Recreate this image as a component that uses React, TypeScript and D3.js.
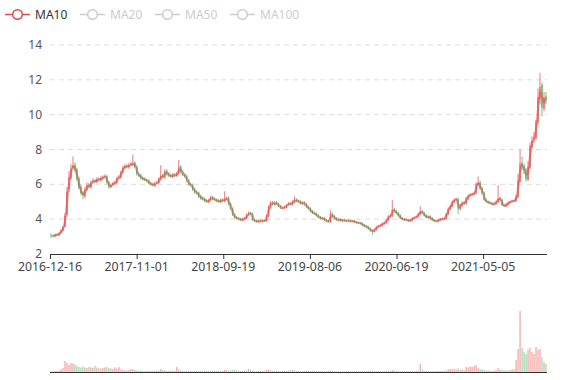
import React from "react";
import * as d3 from "d3";

// x-axis tick labels and their trading-day index
const tickLabels = ["2016-12-16", "2017-11-01", "2018-09-19", "2019-08-06", "2020-06-19", "2021-05-05"];
const tickDayIndex = [0, 217, 434, 651, 868, 1085];
const daysPerCandle = 5; // each candle = one trading week
const maWindowCandles = 2; // 10 trading days
const legendNames = ["MA10", "MA20", "MA50", "MA100"];
const yTicks = [2, 4, 6, 8, 10, 12, 14];

const opens = [
  3.10,3.06,3.02,3.13,3.07,3.18,3.33,3.56,4.25,5.70,
  6.35,6.95,7.15,6.85,6.35,5.85,5.55,5.30,5.68,5.98,
  5.82,6.12,6.25,6.12,6.32,6.22,6.33,6.42,6.48,6.12,
  5.83,5.98,6.08,6.08,6.38,6.38,6.68,6.93,7.08,6.98,
  7.12,7.13,7.25,7.02,6.58,6.52,6.38,6.32,6.22,6.22,
  6.08,6.02,5.92,6.08,6.08,6.28,6.52,6.38,6.78,6.62,
  6.52,6.42,6.58,6.48,6.62,7.02,6.72,6.57,6.47,6.22,
  6.02,5.97,5.72,5.53,5.52,5.32,5.22,5.17,5.07,4.98,
  5.12,5.27,5.17,5.12,5.07,4.98,5.12,5.03,5.13,5.22,
  4.88,4.62,4.28,4.12,4.07,4.02,3.93,3.98,4.03,4.27,
  4.37,4.32,3.97,3.92,3.83,3.92,3.86,3.94,3.88,4.18,
  4.68,4.98,4.83,4.97,4.88,4.77,4.62,4.67,4.68,4.82,
  4.92,4.83,4.98,5.12,5.07,5.02,4.88,4.97,4.87,4.72,
  4.62,4.47,4.37,4.32,4.22,4.12,4.02,4.07,3.97,3.90,
  3.83,4.32,4.17,4.07,3.93,4.00,3.90,3.97,3.88,3.94,
  3.92,3.86,3.92,3.84,3.82,3.80,3.77,3.67,3.62,3.57,
  3.47,3.37,3.28,3.38,3.53,3.62,3.63,3.73,3.78,3.93,
  4.13,4.18,4.57,4.47,4.37,4.22,4.07,3.96,4.00,3.97,
  3.88,3.93,4.03,4.12,4.13,4.28,4.47,4.37,4.22,4.08,
  4.17,4.07,3.97,3.92,3.86,3.93,4.03,3.98,4.03,4.28,
  4.58,4.73,4.98,5.12,5.17,4.58,4.78,4.97,4.88,5.18,
  5.33,5.42,5.42,5.48,5.98,6.12,5.78,5.52,5.12,5.02,
  4.97,4.92,4.83,4.88,4.98,5.22,5.12,4.82,4.73,4.83,
  4.93,5.02,5.08,5.03,5.28,6.15,7.25,7.05,6.85,6.25,
  6.95,8.15,8.60,8.65,9.55,10.90,11.70,10.35,11.05,
];

const closes = [
  3.05,3.00,3.12,3.08,3.20,3.35,3.55,4.20,5.60,6.40,
  6.90,7.10,6.80,6.30,5.80,5.50,5.35,5.70,5.95,5.85,
  6.10,6.20,6.15,6.30,6.25,6.35,6.40,6.45,6.10,5.85,
  5.95,6.05,6.10,6.35,6.40,6.70,6.95,7.05,7.00,7.10,
  7.15,7.20,7.00,6.60,6.50,6.35,6.30,6.25,6.20,6.05,
  6.00,5.95,6.05,6.10,6.30,6.50,6.40,6.75,6.60,6.50,
  6.45,6.55,6.50,6.60,7.00,6.70,6.55,6.45,6.20,6.00,
  5.95,5.70,5.55,5.50,5.30,5.20,5.15,5.05,5.00,5.10,
  5.25,5.15,5.10,5.05,5.00,5.10,5.05,5.15,5.20,4.85,
  4.60,4.25,4.10,4.05,4.00,3.95,4.00,4.05,4.25,4.35,
  4.30,3.95,3.90,3.85,3.90,3.88,3.92,3.90,4.20,4.70,
  4.95,4.85,4.95,4.85,4.75,4.65,4.65,4.70,4.80,4.90,
  4.85,5.00,5.10,5.05,5.00,4.90,4.95,4.85,4.70,4.60,
  4.45,4.35,4.30,4.20,4.10,4.05,4.05,3.95,3.88,3.85,
  4.30,4.15,4.05,3.95,3.98,3.92,3.95,3.90,3.92,3.90,
  3.88,3.90,3.82,3.80,3.78,3.75,3.65,3.60,3.55,3.45,
  3.35,3.30,3.40,3.55,3.60,3.65,3.75,3.80,3.95,4.15,
  4.20,4.55,4.45,4.35,4.20,4.05,4.00,3.98,3.95,3.90,
  3.95,4.05,4.10,4.15,4.30,4.45,4.35,4.20,4.10,4.15,
  4.05,3.95,3.90,3.88,3.95,4.00,4.00,4.05,4.30,4.60,
  4.75,5.00,5.10,5.15,4.60,4.80,4.95,4.90,5.20,5.35,
  5.40,5.45,5.50,6.00,6.10,5.75,5.50,5.10,5.00,4.95,
  4.90,4.85,4.90,5.00,5.20,5.10,4.80,4.75,4.85,4.95,
  5.00,5.05,5.05,5.30,6.20,7.20,7.00,6.80,6.30,7.00,
  8.20,8.50,8.70,9.60,11.00,11.60,10.40,11.00,10.85,
];

const highs = [
  3.18,3.12,3.17,3.18,3.25,3.42,3.62,4.35,5.85,6.75,
  7.15,7.60,7.25,6.95,6.45,5.95,5.62,5.82,6.10,6.08,
  6.22,6.35,6.30,6.42,6.40,6.48,6.52,6.58,6.55,6.20,
  6.05,6.15,6.20,6.45,6.52,6.80,7.05,7.15,7.15,7.22,
  7.28,7.70,7.32,7.10,6.68,6.60,6.45,6.40,6.32,6.28,
  6.15,6.10,6.15,6.18,6.40,7.10,6.60,6.85,6.88,6.70,
  6.60,6.65,6.65,6.72,7.40,7.10,6.80,6.65,6.55,6.30,
  6.10,6.05,5.80,5.65,5.58,5.40,5.30,5.25,5.15,5.18,
  5.35,5.35,5.25,5.20,5.15,5.18,5.20,5.60,5.28,5.30,
  4.95,4.68,4.35,4.18,4.12,4.08,4.08,4.12,4.32,4.45,
  4.42,4.38,4.02,3.98,3.96,3.98,3.98,4.00,4.28,4.80,
  5.05,5.05,5.02,5.05,4.95,4.82,4.72,4.78,4.88,4.98,
  4.98,5.08,5.30,5.18,5.12,5.08,5.02,5.02,4.92,4.78,
  4.68,4.52,4.42,4.38,4.28,4.18,4.12,4.12,4.02,3.95,
  4.50,4.38,4.22,4.12,4.05,4.05,4.00,4.02,3.98,3.99,
  3.97,3.95,3.96,3.88,3.86,3.84,3.82,3.72,3.67,3.62,
  3.52,3.42,3.46,3.62,3.66,3.72,3.80,3.85,4.00,4.22,
  4.28,5.10,4.65,4.52,4.42,4.28,4.12,4.04,4.05,4.02,
  4.00,4.10,4.15,4.20,4.38,4.75,4.52,4.42,4.28,4.22,
  4.22,4.12,4.02,3.96,4.00,4.06,4.08,4.10,4.36,4.68,
  4.82,5.08,5.20,5.25,5.22,4.88,5.02,5.05,5.28,5.42,
  5.48,5.52,5.58,6.10,6.45,6.22,5.85,5.58,5.18,5.08,
  5.02,4.98,4.96,5.06,5.95,5.28,5.18,4.88,4.92,5.02,
  5.06,5.12,5.12,5.40,6.60,8.00,7.60,7.20,6.95,7.35,
  8.40,8.75,9.00,9.70,11.50,12.40,11.85,11.30,11.30,
];

const lows = [
  2.92,2.95,2.98,3.02,3.03,3.15,3.30,3.52,4.15,5.55,
  6.25,6.85,6.70,6.20,5.72,5.38,5.15,5.20,5.60,5.75,
  5.75,6.05,6.05,6.05,6.15,6.15,6.25,6.35,6.05,5.75,
  5.78,5.90,6.00,6.02,6.30,6.32,6.60,6.88,6.92,6.90,
  7.05,7.05,6.95,6.50,6.42,6.28,6.22,6.18,6.12,6.00,
  5.92,5.88,5.85,6.00,6.02,6.22,6.32,6.32,6.50,6.42,
  6.38,6.35,6.42,6.42,6.55,6.62,6.48,6.38,6.12,5.92,
  5.88,5.62,5.45,5.42,5.22,5.12,5.08,4.98,4.95,4.92,
  5.05,5.08,5.05,4.98,4.94,4.92,4.98,4.98,5.08,4.78,
  4.52,4.18,4.02,3.98,3.94,3.90,3.88,3.94,3.98,4.20,
  4.22,3.90,3.84,3.80,3.80,3.83,3.82,3.84,3.84,4.12,
  4.60,4.78,4.78,4.80,4.70,4.58,4.56,4.60,4.62,4.78,
  4.80,4.78,4.92,4.98,4.94,4.84,4.82,4.78,4.64,4.55,
  4.40,4.30,4.25,4.15,4.05,3.98,3.98,3.90,3.82,3.80,
  3.80,4.08,3.98,3.90,3.88,3.86,3.85,3.86,3.84,3.85,
  3.82,3.82,3.78,3.75,3.72,3.70,3.60,3.55,3.50,3.40,
  3.28,3.10,3.24,3.34,3.48,3.56,3.58,3.68,3.72,3.88,
  4.08,4.12,4.38,4.28,4.15,4.00,3.95,3.92,3.90,3.84,
  3.84,3.88,3.98,4.05,4.08,4.22,4.28,4.15,4.05,4.02,
  3.98,3.90,3.84,3.84,3.82,3.90,3.95,3.94,3.98,4.22,
  4.52,4.68,4.92,5.05,4.30,4.50,4.72,4.82,4.82,5.12,
  5.28,5.35,5.36,5.42,5.90,5.68,5.42,5.05,4.95,4.88,
  4.85,4.80,4.78,4.82,4.92,5.05,4.75,4.70,4.68,4.78,
  4.88,4.96,4.98,4.98,5.20,6.10,6.80,6.60,6.15,6.20,
  6.88,8.05,8.40,8.55,9.40,10.60,9.90,10.20,10.60,
];

const volumes = [
  8,6,10,12,15,25,40,110,90,70,
  90,85,75,60,50,45,55,45,40,50,
  45,40,60,45,40,35,40,45,50,40,
  35,30,45,35,50,25,20,15,18,20,
  30,28,22,15,12,15,12,10,10,12,
  10,12,10,12,15,30,20,15,12,12,
  10,12,15,50,25,15,12,10,12,10,
  12,10,15,12,10,12,10,12,10,8,
  10,12,15,12,10,8,12,20,15,12,
  15,18,20,15,12,10,10,12,15,30,
  20,12,10,8,10,8,10,8,20,25,
  15,12,10,12,10,8,10,8,10,12,
  15,20,15,10,10,8,8,10,12,10,
  10,12,10,8,8,10,8,8,8,10,
  15,10,8,8,6,8,6,8,6,8,
  6,8,6,6,8,8,10,8,10,12,
  10,12,8,8,10,8,8,10,10,12,
  12,20,15,12,10,8,8,8,8,8,
  8,10,8,10,12,80,20,12,10,10,
  8,8,8,10,10,10,12,10,15,25,
  30,25,30,25,35,20,25,20,50,45,
  55,50,60,70,40,30,25,20,15,15,
  12,12,15,20,40,25,20,15,12,15,
  20,25,30,120,230,610,240,200,180,220,
  240,200,180,250,220,230,150,100,80,
];

const W = 577;
const H = 380;
const grid = { left: 50, right: 547, top: 45, bottom: 254 };
const volGrid = { top: 302, bottom: 372 };
const upColor = "#eb5454";
const downColor = "#47b262";
const maColor = "#dd4b4b";
const font = "'Noto Sans', 'DejaVu Sans', sans-serif";

export default function App() {
  const n = Math.min(opens.length, closes.length, highs.length, lows.length, volumes.length);
  const totalDays = n * daysPerCandle;
  const x = d3.scaleLinear().domain([0, totalDays]).range([grid.left, grid.right]);
  const y = d3.scaleLinear().domain([2, 14]).range([grid.bottom, grid.top]);
  const yv = d3.scaleLinear().domain([0, 700]).range([volGrid.bottom, volGrid.top]);
  const cx = (i: number) => x(i * daysPerCandle + daysPerCandle / 2);
  const band = x(daysPerCandle) - x(0);
  const bodyW = band * 0.75;

  const idx = d3.range(n);
  const ma: (number | null)[] = idx.map((i) =>
    i < maWindowCandles - 1 ? null : (d3.mean(closes.slice(i - maWindowCandles + 1, i + 1)) as number)
  );
  const maLine = d3
    .line<number | null>()
    .defined((d) => d != null)
    .x((_, i) => cx(i))
    .y((d) => y(d as number))
    .curve(d3.curveMonotoneX)(ma);

  return (
    <svg width={W} height={H} style={{ position: "absolute", left: 0, top: 0 }} fontFamily={font}>
      <rect width={W} height={H} fill="#fff" />
      {/* legend */}
      {legendNames.map((name, k) => {
        const x0 = 5 + k * 75;
        const c = k === 0 ? maColor : "#ccc";
        return (
          <g key={name}>
            <line x1={x0} x2={x0 + 25} y1={14.5} y2={14.5} stroke={c} strokeWidth={1.5} />
            <circle cx={x0 + 12.5} cy={14.5} r={4.8} fill="#fff" stroke={c} strokeWidth={1.5} />
            <text x={x0 + 30} y={19} fontSize={12} fill={k === 0 ? "#333" : "#ccc"}>
              {name}
            </text>
          </g>
        );
      })}
      {/* y split lines & labels */}
      {yTicks.map((t) => (
        <g key={t}>
          {t > 2 && (
            <line x1={grid.left} x2={grid.right} y1={y(t)} y2={y(t)} stroke="#ddd" strokeDasharray="5,4" />
          )}
          <text x={grid.left - 8} y={y(t) + 4} textAnchor="end" fontSize={12} fill="#555">
            {t}
          </text>
        </g>
      ))}
      {/* candles */}
      <g>
        {idx.map((i) => {
          const o = opens[i], c = closes[i];
          const col = c >= o ? upColor : downColor;
          const top = y(Math.max(o, c));
          const bot = y(Math.min(o, c));
          return (
            <g key={i} opacity={0.85}>
              <line x1={cx(i)} x2={cx(i)} y1={y(highs[i])} y2={y(lows[i])} stroke={col} strokeWidth={0.9} />
              <rect x={cx(i) - bodyW / 2} y={top} width={bodyW} height={Math.max(0.8, bot - top)} fill={col} />
            </g>
          );
        })}
      </g>
      {/* MA10 */}
      <path d={maLine || ""} fill="none" stroke={maColor} strokeOpacity={0.5} strokeWidth={2.2} />
      {/* x axis */}
      <line x1={grid.left} x2={grid.right} y1={grid.bottom + 0.5} y2={grid.bottom + 0.5} stroke="#333" />
      {tickDayIndex.map((d, k) => (
        <g key={d}>
          <line x1={x(d) + 0.5} x2={x(d) + 0.5} y1={grid.bottom} y2={grid.bottom + 5} stroke="#333" />
          <text x={x(d)} y={271} textAnchor="middle" fontSize={12.3} fill="#444">
            {tickLabels[k]}
          </text>
        </g>
      ))}
      {/* volume */}
      <g>
        {idx.map((i) => {
          const col = closes[i] >= opens[i] ? upColor : downColor;
          return (
            <rect
              key={i}
              x={cx(i) - band * 0.3}
              y={yv(volumes[i])}
              width={band * 0.6}
              height={volGrid.bottom - yv(volumes[i])}
              fill={col}
              opacity={0.55}
            />
          );
        })}
      </g>
      <line x1={grid.left} x2={grid.right} y1={volGrid.bottom + 0.5} y2={volGrid.bottom + 0.5} stroke="#333" />
    </svg>
  );
}
